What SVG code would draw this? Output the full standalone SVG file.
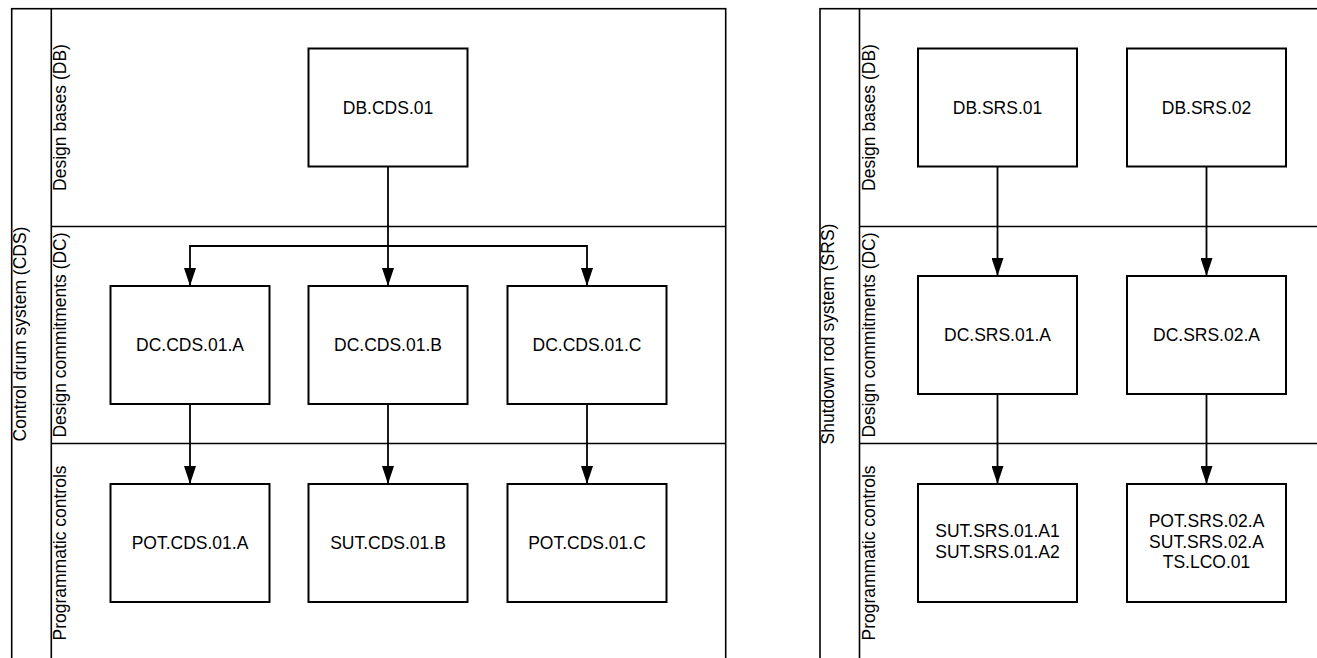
<svg xmlns="http://www.w3.org/2000/svg" width="1317" height="658" viewBox="0 0 1317 658">
  <defs>
    <marker id="arrow" viewBox="0 0 18 12" refX="18" refY="6" markerWidth="18" markerHeight="12" markerUnits="userSpaceOnUse" orient="auto">
      <path d="M0,0 L18,6 L0,12 Z" fill="#000"/>
    </marker>
  </defs>
  <style>
    .pool { fill: none; stroke: #000; stroke-width: 1.6; }
    .node rect { fill: #fff; stroke: #000; stroke-width: 2; }
    .node text { font-family: "Liberation Sans", Arial, sans-serif; font-size: 17.5px; text-anchor: middle; fill: #000; }
    .lane-label { font-family: "Liberation Sans", Arial, sans-serif; font-size: 17.5px; text-anchor: middle; fill: #000; }
    .edge { fill: none; stroke: #000; stroke-width: 1.8; }
    .edge.arrow { marker-end: url(#arrow); }
  </style>
  <rect width="1317" height="658" fill="#fff"/>

  <!-- Control drum system pool -->
  <g id="pool-cds">
    <rect class="pool" x="11.7" y="8.7" width="714" height="660"/>
    <line class="pool" x1="51.3" y1="8.7" x2="51.3" y2="670"/>
    <line class="pool" x1="51.3" y1="226.5" x2="725.7" y2="226.5"/>
    <line class="pool" x1="51.3" y1="443.5" x2="725.7" y2="443.5"/>
    <text class="lane-label" transform="translate(25.5,334) rotate(-90)">Control drum system (CDS)</text>
    <text class="lane-label" transform="translate(66,117.5) rotate(-90)">Design bases (DB)</text>
    <text class="lane-label" transform="translate(66,335) rotate(-90)">Design commitments (DC)</text>
    <text class="lane-label" transform="translate(66,553) rotate(-90)">Programmatic controls</text>
  </g>

  <!-- Shutdown rod system pool -->
  <g id="pool-srs">
    <rect class="pool" x="820" y="8.7" width="520" height="660"/>
    <line class="pool" x1="859.5" y1="8.7" x2="859.5" y2="670"/>
    <line class="pool" x1="859.5" y1="226.5" x2="1340" y2="226.5"/>
    <line class="pool" x1="859.5" y1="443.5" x2="1340" y2="443.5"/>
    <text class="lane-label" transform="translate(834,334) rotate(-90)">Shutdown rod system (SRS)</text>
    <text class="lane-label" transform="translate(874.5,117.5) rotate(-90)">Design bases (DB)</text>
    <text class="lane-label" transform="translate(874.5,335) rotate(-90)">Design commitments (DC)</text>
    <text class="lane-label" transform="translate(874.5,553) rotate(-90)">Programmatic controls</text>
  </g>

  <!-- Connectors -->
  <g id="connectors">
    <path class="edge arrow" d="M388,167 V286"/>
    <path class="edge arrow" d="M388,246 H190 V286"/>
    <path class="edge arrow" d="M388,246 H587 V286"/>
    <path class="edge arrow" d="M190,404 V484"/>
    <path class="edge arrow" d="M388,404 V484"/>
    <path class="edge arrow" d="M587,404 V484"/>
    <path class="edge arrow" d="M997.5,167 V276"/>
    <path class="edge arrow" d="M1206.5,167 V276"/>
    <path class="edge arrow" d="M997.5,394 V484"/>
    <path class="edge arrow" d="M1206.5,394 V484"/>
  </g>

  <!-- CDS nodes -->
  <g id="DB.CDS.01" class="node">
    <rect x="308.5" y="48.5" width="159" height="118"/>
    <text x="388" y="113.5">DB.CDS.01</text>
  </g>
  <g id="DC.CDS.01.A" class="node">
    <rect x="110.5" y="286" width="159" height="118"/>
    <text x="190" y="351">DC.CDS.01.A</text>
  </g>
  <g id="DC.CDS.01.B" class="node">
    <rect x="308.5" y="286" width="159" height="118"/>
    <text x="388" y="351">DC.CDS.01.B</text>
  </g>
  <g id="DC.CDS.01.C" class="node">
    <rect x="507.5" y="286" width="159" height="118"/>
    <text x="587" y="351">DC.CDS.01.C</text>
  </g>
  <g id="POT.CDS.01.A" class="node">
    <rect x="110.5" y="484" width="159" height="118"/>
    <text x="190" y="549">POT.CDS.01.A</text>
  </g>
  <g id="SUT.CDS.01.B" class="node">
    <rect x="308.5" y="484" width="159" height="118"/>
    <text x="388" y="549">SUT.CDS.01.B</text>
  </g>
  <g id="POT.CDS.01.C" class="node">
    <rect x="507.5" y="484" width="159" height="118"/>
    <text x="587" y="549">POT.CDS.01.C</text>
  </g>

  <!-- SRS nodes -->
  <g id="DB.SRS.01" class="node">
    <rect x="918" y="48.5" width="159" height="118"/>
    <text x="997.5" y="113.5">DB.SRS.01</text>
  </g>
  <g id="DB.SRS.02" class="node">
    <rect x="1127" y="48.5" width="159" height="118"/>
    <text x="1206.5" y="113.5">DB.SRS.02</text>
  </g>
  <g id="DC.SRS.01.A" class="node">
    <rect x="918" y="276" width="159" height="118"/>
    <text x="997.5" y="341">DC.SRS.01.A</text>
  </g>
  <g id="DC.SRS.02.A" class="node">
    <rect x="1127" y="276" width="159" height="118"/>
    <text x="1206.5" y="341">DC.SRS.02.A</text>
  </g>
  <g id="SUT.SRS.01.A" class="node">
    <rect x="918" y="484" width="159" height="118"/>
    <text x="997.5" y="536.7">SUT.SRS.01.A1</text>
    <text x="997.5" y="557.7">SUT.SRS.01.A2</text>
  </g>
  <g id="SRS.02.A.controls" class="node">
    <rect x="1127" y="484" width="159" height="118"/>
    <text x="1206.5" y="526.7">POT.SRS.02.A</text>
    <text x="1206.5" y="547.5">SUT.SRS.02.A</text>
    <text x="1206.5" y="568.3">TS.LCO.01</text>
  </g>
</svg>
